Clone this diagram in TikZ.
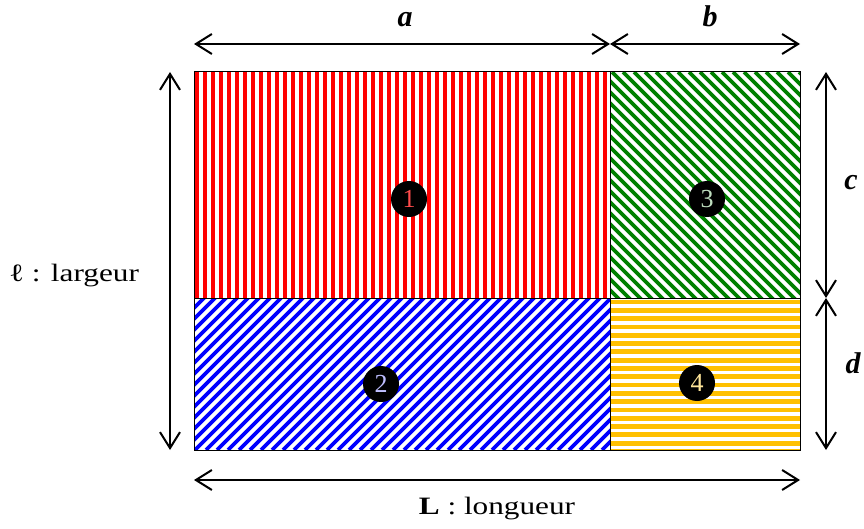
\documentclass[tikz,border=0pt]{standalone}
\usepackage{fontspec}
\setmainfont{Liberation Serif}
\newfontfamily\widefont[FakeStretch=1.25]{Liberation Serif}
\usetikzlibrary{arrows.meta}

\begin{document}
\begin{tikzpicture}[x=1pt,y=-1pt,>={Straight Barb[length=16pt,width=20pt]}]
\definecolor{zoneone}{RGB}{255,0,0}
\definecolor{zonetwo}{RGB}{0,0,255}
\definecolor{zonethree}{RGB}{0,128,0}
\definecolor{zonefour}{RGB}{255,192,0}
\tikzset{
  num/.style={circle,fill=black,inner sep=0pt,minimum size=36pt,
    font=\fontsize{26}{26}\selectfont},
  dimlabel/.style={anchor=base,font=\fontsize{30}{30}\selectfont\bfseries\itshape},
  sidelabel/.style={anchor=base,font=\fontsize{25}{25}\selectfont\widefont},
  dimarrow/.style={<->,line width=2pt},
}
\useasboundingbox (0,0) rectangle (864,529);

% corners of the field
\coordinate (nw) at (194,72);
\coordinate (ne) at (800,72);
\coordinate (sw) at (194,450);
\coordinate (se) at (800,450);
\coordinate (cut) at (610,298);

% (1) vertical stripes
\begin{scope}
  \clip (nw) rectangle (cut);
  \foreach \x in {197,205,...,612}{
    \draw[zoneone,line width=4.5pt] (\x,72) -- (\x,298);
  }
\end{scope}

% (2) rising stripes
\begin{scope}
  \clip (194,298) rectangle (610,450);
  \foreach \s in {30,41,...,612}{
    \draw[zonetwo,line width=3.6pt] (\s,450) -- ++(170,-170);
  }
\end{scope}

% (3) falling stripes
\begin{scope}
  \clip (610,72) rectangle (800,298);
  \foreach \s in {370,381,...,802}{
    \draw[zonethree,line width=3.6pt] (\s,72) -- ++(240,240);
  }
\end{scope}

% (4) horizontal stripes
\begin{scope}
  \clip (cut) rectangle (se);
  \foreach \y in {302,310.3,...,452}{
    \draw[zonefour,line width=4.8pt] (610,\y) -- (800,\y);
  }
\end{scope}

\draw[line width=1pt] (nw) rectangle (se);
\draw[line width=1pt] (nw -| cut) -- (sw -| cut);
\draw[line width=1pt] (nw |- cut) -- (ne |- cut);

\node[num,text=zoneone!70!white] (n1) at (409,199) {1};
\node[num,text=zonetwo!25!white] (n2) at (381,384) {2};
\node[num,text=zonethree!25!white] (n3) at (707,199) {3};
\node[num,text=zonefour!40!white] (n4) at (697,383) {4};

% dimension arrows
\coordinate (a0) at (194,44);
\coordinate (a1) at (610,44);
\coordinate (b1) at (800,44);
\coordinate (l0) at (170,72);
\coordinate (l1) at (170,450);
\coordinate (c0) at (826,72);
\coordinate (c1) at (826,298);
\coordinate (d1) at (826,450);
\coordinate (L0) at (194,480);
\coordinate (L1) at (800,480);

\draw[dimarrow] (a0) -- (a1);
\draw[dimarrow] (a1) -- (b1);
\draw[dimarrow] (l0) -- (l1);
\draw[dimarrow] (c0) -- (c1);
\draw[dimarrow] (c1) -- (d1);
\draw[dimarrow] (L0) -- (L1);

\node[dimlabel] (la) at (405,27) {a};
\node[dimlabel] (lb) at (710,27) {b};
\node[dimlabel] (lc) at (851,190) {c};
\node[dimlabel] (ld) at (853,373) {d};
\node[sidelabel] (width) at (74,281) {ℓ : largeur};
\node[sidelabel] (length) at (497,514) {\textbf{L} : longueur};
\end{tikzpicture}
\end{document}
